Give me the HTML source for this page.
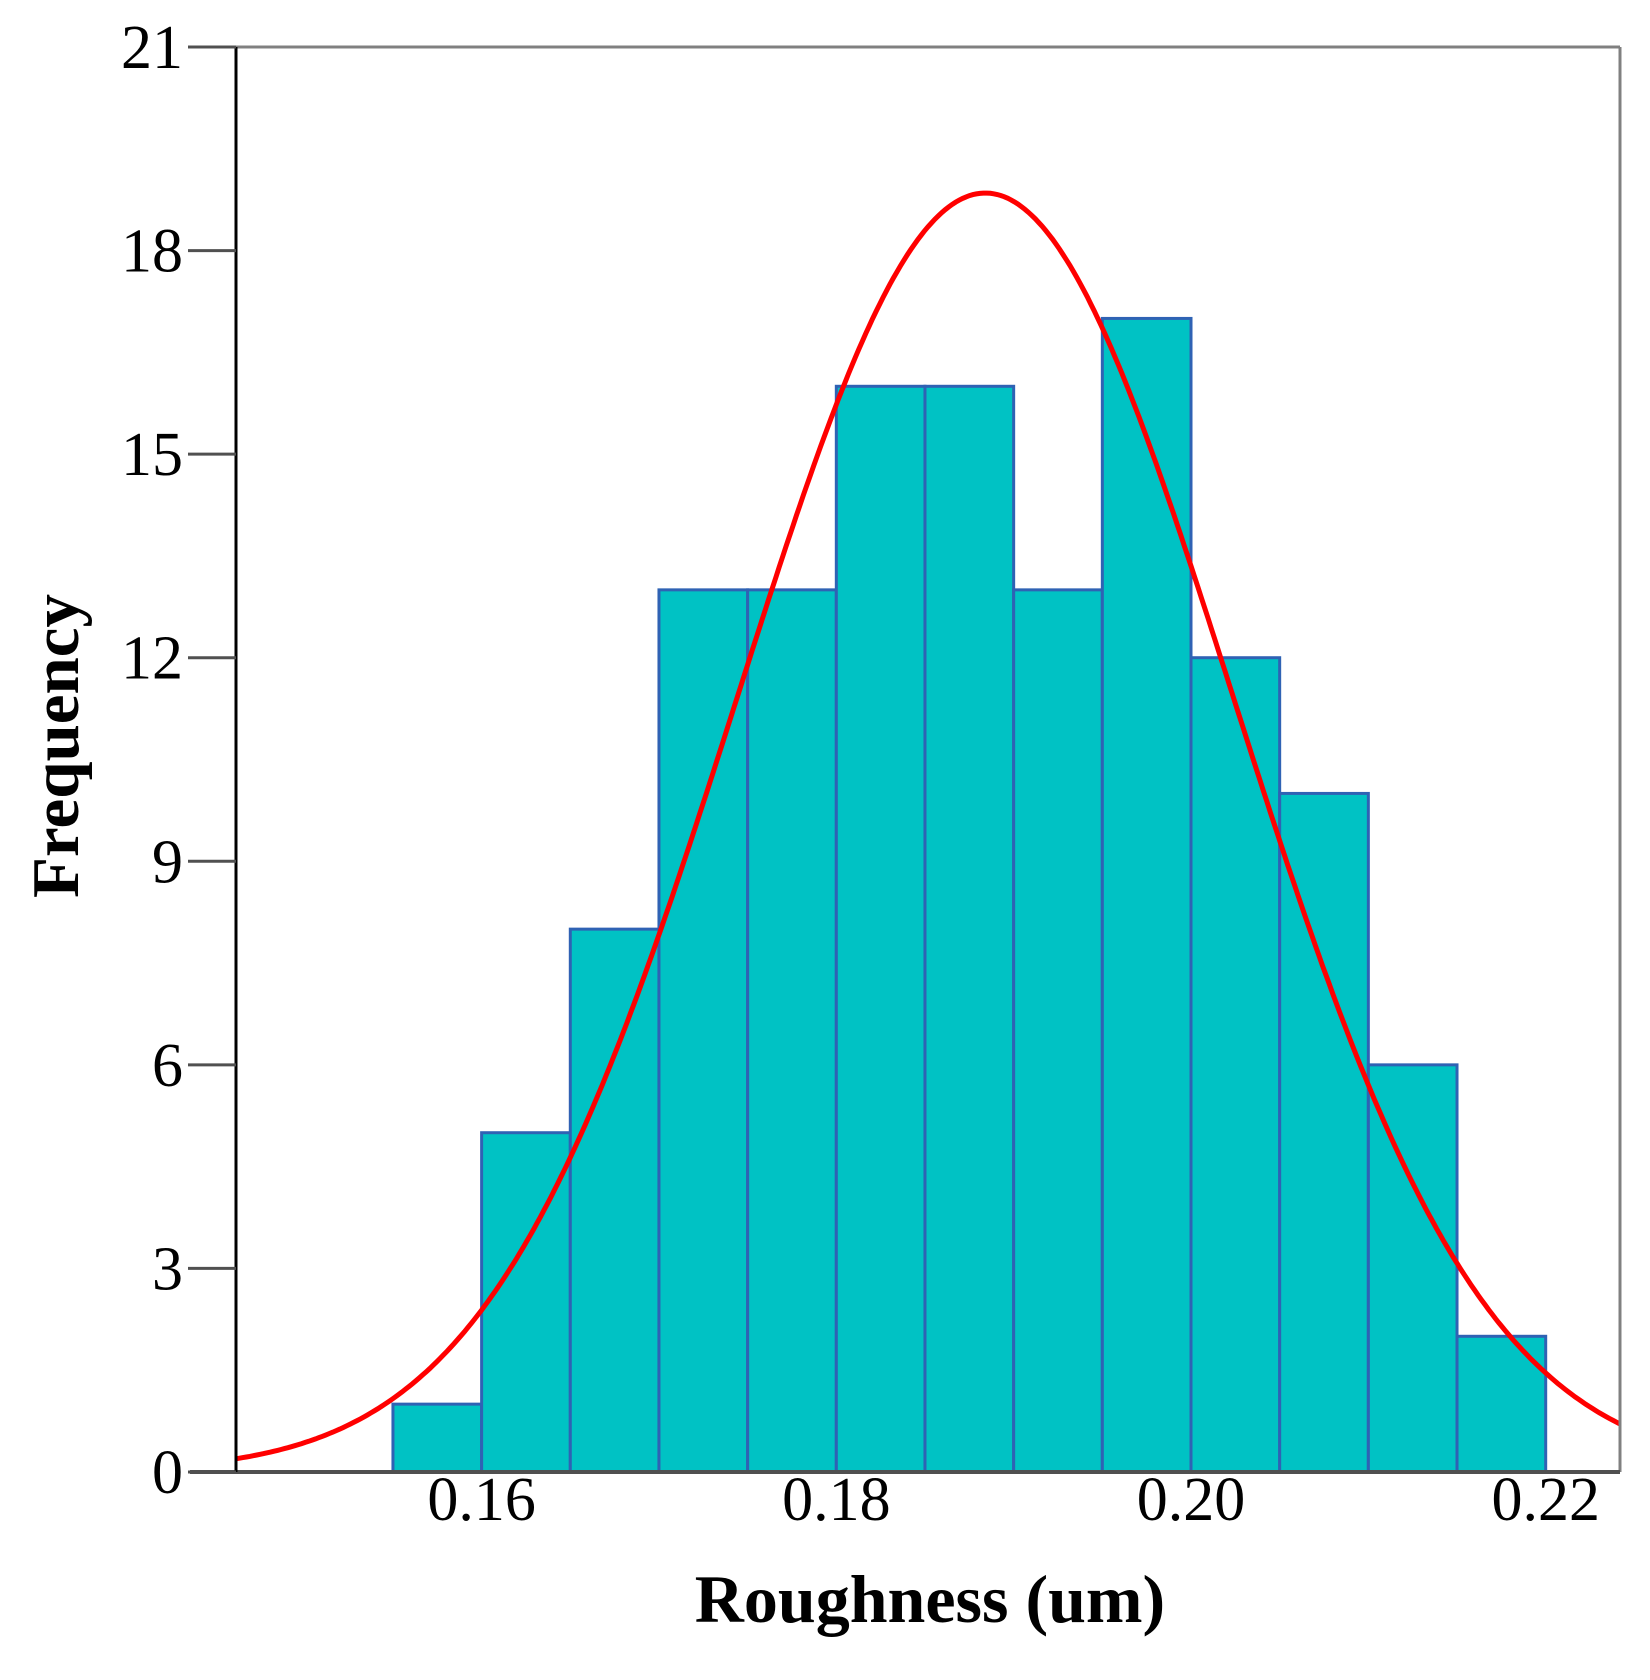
<!DOCTYPE html>
<html><head><meta charset="utf-8"><style>
html,body{margin:0;padding:0;background:#fff;}
svg{display:block;}
text{font-family:"Liberation Serif",serif;fill:#000;}
</style></head><body>
<svg id="chart" width="1650" height="1680" viewBox="0 0 1650 1680">
<g id="bars"></g>
<path id="curve" fill="none" stroke="#ff0000" stroke-width="5"/>
<g id="axes"></g>
<text x="930" y="1622" text-anchor="middle" font-size="68" font-weight="bold">Roughness (um)</text>
<text transform="translate(78,746) rotate(-90)" text-anchor="middle" font-size="67" font-weight="bold">Frequency</text>
</svg>
<script>
const binStarts = [0.155,0.160,0.165,0.170,0.175,0.180,0.185,0.190,0.195,0.200,0.205,0.210,0.215];
const counts = [1,5,8,13,13,16,16,13,17,12,10,6,2];
const binWidth = 0.005;
const yTicks = [0,3,6,9,12,15,18,21];
const xTicks = [0.16,0.18,0.20,0.22];
const xTickLabels = ["0.16","0.18","0.20","0.22"];
const curveMean = 0.1884;
const curveSd = 0.01397;

const L=236,R=1620,T=47,B=1472;
const xMin=0.14615,xMax=0.22419,yMax=21;
const xs=v=>L+(v-xMin)/(xMax-xMin)*(R-L);
const ys=v=>B-v/yMax*(B-T);
const NS="http://www.w3.org/2000/svg";
function mk(tag,attrs,parent){const e=document.createElementNS(NS,tag);for(const k in attrs)e.setAttribute(k,attrs[k]);parent.appendChild(e);return e;}
const bars=document.getElementById('bars');
binStarts.forEach((s,i)=>{
  const x0=xs(s),x1=xs(s+binWidth),y=ys(counts[i]);
  const r=mk('rect',{x:x0,y:y,width:x1-x0,height:B-y,fill:'#00c2c4',stroke:'#2f62b4','stroke-width':3},bars);
  
  
});
const N=counts.reduce((a,b)=>a+b,0);
let d='';
for(let i=0;i<=400;i++){
  const v=xMin+(xMax-xMin)*i/400;
  const f=N*binWidth/(curveSd*Math.sqrt(2*Math.PI))*Math.exp(-0.5*((v-curveMean)/curveSd)**2);
  d+=(i?'L':'M')+xs(v).toFixed(1)+' '+ys(f).toFixed(1);
}
document.getElementById('curve').setAttribute('d',d);
const ax=document.getElementById('axes');
mk('line',{x1:L,y1:T,x2:R,y2:T,stroke:'#808080','stroke-width':3},ax);
mk('line',{x1:R,y1:T,x2:R,y2:B,stroke:'#808080','stroke-width':3},ax);
mk('line',{x1:190,y1:B,x2:R,y2:B,stroke:'#505050','stroke-width':4},ax);
mk('line',{x1:L,y1:T,x2:L,y2:B,stroke:'#000','stroke-width':3},ax);
yTicks.forEach(t=>{
  const y=ys(t);
  const tl=mk('line',{x1:188,y1:y,x2:L,y2:y,stroke:'#505050','stroke-width':3},ax);
  
  
  const tx=mk('text',{x:183,y:y+21,'text-anchor':'end','font-size':62},ax);
  tx.textContent=t;
  
  
});
xTicks.forEach((t,i)=>{
  const tx=mk('text',{x:xs(t),y:B+48,'text-anchor':'middle','font-size':62},ax);
  tx.textContent=xTickLabels[i];
  
  
});
</script>
</body></html>
